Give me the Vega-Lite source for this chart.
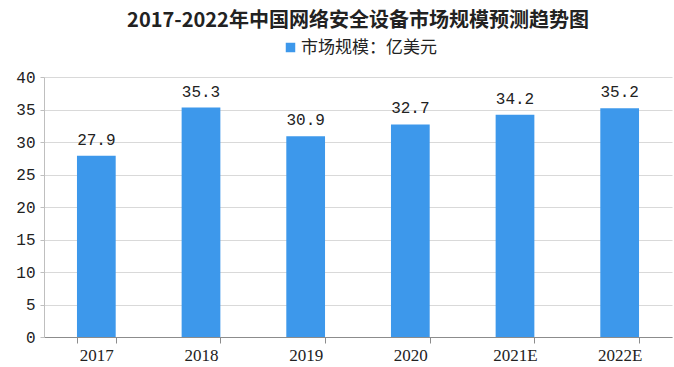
{
  "$schema": "https://vega.github.io/schema/vega-lite/v6.json",
  "width": 628,
  "height": 260,
  "autosize": "none",
  "padding": {"left": 44, "top": 77, "right": 2, "bottom": 30},
  "background": "white",
  "title": {
    "text": "2017-2022年中国网络安全设备市场规模预测趋势图",
    "font": "Noto Sans CJK SC",
    "fontSize": 20,
    "fontWeight": "bold",
    "color": "#222222",
    "anchor": "middle",
    "frame": "group",
    "offset": 8
  },
  "data": {
    "values": [
      {"year": "2017", "value": 27.9, "series": "市场规模：亿美元"},
      {"year": "2018", "value": 35.3, "series": "市场规模：亿美元"},
      {"year": "2019", "value": 30.9, "series": "市场规模：亿美元"},
      {"year": "2020", "value": 32.7, "series": "市场规模：亿美元"},
      {"year": "2021E", "value": 34.2, "series": "市场规模：亿美元"},
      {"year": "2022E", "value": 35.2, "series": "市场规模：亿美元"}
    ]
  },
  "encoding": {
    "x": {
      "field": "year",
      "type": "nominal",
      "sort": null,
      "scale": {"paddingInner": 0.63, "paddingOuter": 0.315},
      "axis": {
        "title": null,
        "labelAngle": 0,
        "labelFont": "Liberation Serif",
        "labelFontSize": 17,
        "labelColor": "#222222",
        "labelPadding": 4,
        "tickBand": "extent",
        "tickSize": 6,
        "tickColor": "#8c8c8c",
        "domainColor": "#8c8c8c",
        "grid": false
      }
    },
    "y": {
      "field": "value",
      "type": "quantitative",
      "scale": {"domain": [0, 40]},
      "axis": {
        "title": null,
        "values": [0, 5, 10, 15, 20, 25, 30, 35, 40],
        "labelFont": "Liberation Mono",
        "labelFontSize": 16,
        "labelColor": "#222222",
        "labelPadding": 5,
        "tickSize": 4,
        "tickColor": "#bfbfbf",
        "domainColor": "#bfbfbf",
        "gridColor": "#d9d9d9",
        "gridWidth": 1.2
      }
    }
  },
  "layer": [
    {
      "mark": {"type": "bar"},
      "encoding": {
        "color": {
          "field": "series",
          "type": "nominal",
          "scale": {"range": ["#3d98eb"]},
          "legend": {
            "title": null,
            "orient": "none",
            "legendX": 238,
            "legendY": -38,
            "symbolType": "square",
            "symbolSize": 90,
            "symbolStrokeWidth": 0,
            "labelFont": "Noto Sans CJK SC",
            "labelFontSize": 17,
            "labelColor": "#222222",
            "labelOffset": 2
          }
        }
      }
    },
    {
      "mark": {
        "type": "text",
        "baseline": "bottom",
        "dy": -8,
        "font": "Liberation Mono",
        "fontSize": 16,
        "color": "#222222"
      },
      "encoding": {
        "text": {"field": "value", "type": "quantitative", "format": ".1f"}
      }
    }
  ],
  "config": {
    "view": {"stroke": null}
  }
}
